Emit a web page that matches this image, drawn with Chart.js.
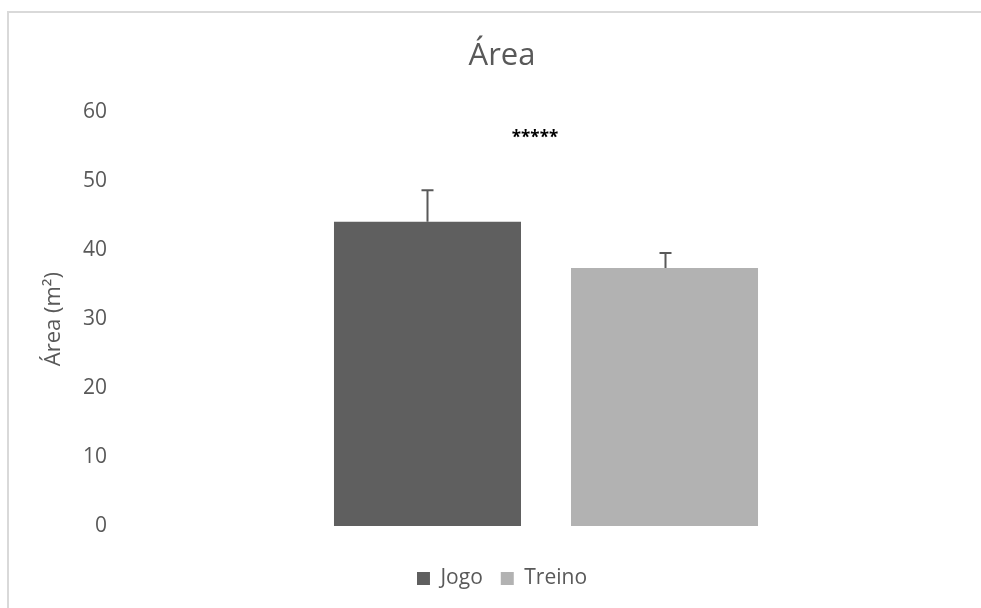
<!DOCTYPE html>
<html>
<head>
<meta charset="utf-8">
<title>Área</title>
<script src="https://cdn.jsdelivr.net/npm/chart.js@4/dist/chart.umd.min.js"></script>
<style>
  html, body { margin: 0; padding: 0; background: #ffffff; overflow: hidden; }
  #frame {
    position: absolute; left: 7px; top: 11px;
    width: 1000px; height: 620px;
    border: 2px solid #d9d9d9; background: #ffffff;
  }
  #chart { position: absolute; left: 0; top: 0; }
</style>
</head>
<body>
<div id="frame"><canvas id="chart" width="982" height="595"></canvas></div>
<script>
// Mean area per context, with standard deviation
const categories = [''];
const seriesNames = ['Jogo', 'Treino'];
const jogoValues = [44.1];
const treinoValues = [37.4];
const jogoErrors = [4.6];
const treinoErrors = [2.2];

// Value axis
const yMin = 0;
const yMax = 60;
const yStep = 10;

// Significance marker drawn above the pair of bars
const significanceText = '*****';
const significanceLevel = 56.6;

const TEXT = '#595959';
const FONT = "'Open Sans', sans-serif";

// Upward error bars plus the significance asterisks
const errorBarPlugin = {
  id: 'errorBars',
  afterDatasetsDraw(chart) {
    const ctx = chart.ctx;
    const y = chart.scales.y;
    ctx.save();
    ctx.strokeStyle = '#595959';
    ctx.lineWidth = 2;
    chart.data.datasets.forEach((ds, di) => {
      const meta = chart.getDatasetMeta(di);
      meta.data.forEach((bar, i) => {
        const top = y.getPixelForValue(ds.data[i] + ds.errors[i]);
        const base = y.getPixelForValue(ds.data[i]);
        const x = Math.round(bar.x) + 0.5;
        ctx.beginPath();
        ctx.moveTo(x, base);
        ctx.lineTo(x, top);
        ctx.moveTo(x - 6, top);
        ctx.lineTo(x + 6, top);
        ctx.stroke();
      });
    });
    // asterisks sit high in their em box, so drop them a little onto the level
    const xs = chart.scales.x;
    const cx = xs.getPixelForValue(0) - 11;
    ctx.fillStyle = '#000000';
    ctx.font = "bold 17px " + FONT;
    ctx.textAlign = 'center';
    ctx.textBaseline = 'middle';
    ctx.fillText(significanceText, cx, y.getPixelForValue(significanceLevel) + 3);
    ctx.restore();
  }
};

new Chart(document.getElementById('chart'), {
  type: 'bar',
  data: {
    labels: categories,
    datasets: [
      { label: seriesNames[0], data: jogoValues, errors: jogoErrors, backgroundColor: '#5f5f5f', borderWidth: 0 },
      { label: seriesNames[1], data: treinoValues, errors: treinoErrors, backgroundColor: '#b2b2b2', borderWidth: 0 }
    ]
  },
  options: {
    responsive: false,
    animation: false,
    devicePixelRatio: 1,
    categoryPercentage: 0.563,
    barPercentage: 0.789,
    layout: { padding: { left: 28, right: 24, top: 0, bottom: 9 } },
    plugins: {
      title: {
        display: true,
        text: 'Área',
        color: TEXT,
        font: { family: FONT, size: 31, weight: 'normal' },
        padding: { top: 25, bottom: 37 }
      },
      legend: {
        display: true,
        position: 'bottom',
        labels: {
          color: TEXT,
          font: { family: FONT, size: 21 },
          boxWidth: 13,
          boxHeight: 13,
          padding: 18
        }
      },
      tooltip: { enabled: false }
    },
    scales: {
      x: {
        type: 'category',
        grid: { display: false, drawTicks: false },
        border: { display: false },
        ticks: { display: false },
        afterFit(s) { s.height = 24; }
      },
      y: {
        min: yMin,
        max: yMax,
        grid: { display: false, drawTicks: false },
        border: { display: false },
        ticks: {
          stepSize: yStep,
          color: TEXT,
          padding: 18,
          font: { family: FONT, size: 21 }
        },
        title: {
          display: true,
          text: 'Área (m²)',
          color: TEXT,
          font: { family: FONT, size: 22 },
          padding: { top: 4, bottom: 0 }
        },
        afterFit(s) { s.width = 88; }
      }
    }
  },
  plugins: [errorBarPlugin]
});
</script>
</body>
</html>
